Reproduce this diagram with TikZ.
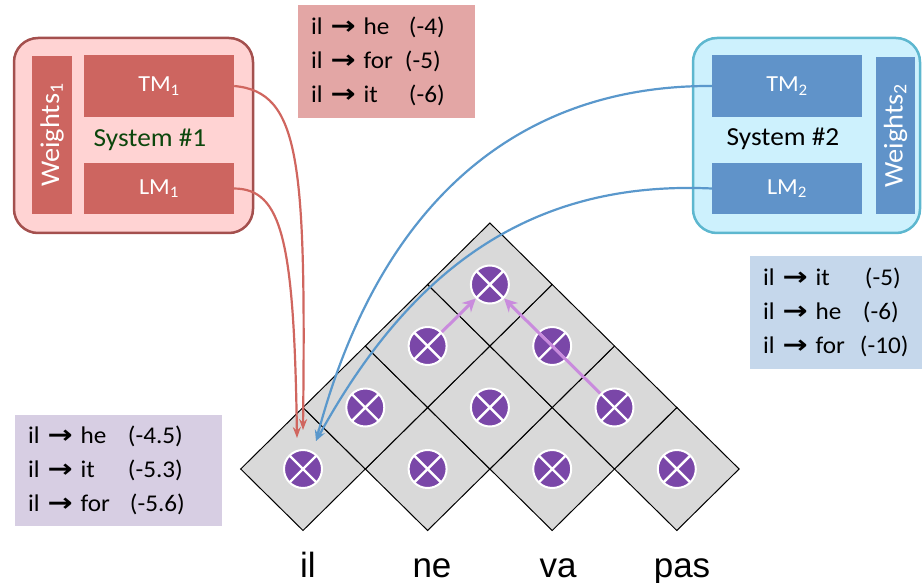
\documentclass[tikz,border=0pt]{standalone}
\usepackage{fontspec}
\setmainfont{Carlito}[FakeStretch=1.05]
\newfontfamily\wordfont{Liberation Sans}
\newfontfamily\arrowfont{DejaVu Sans}[FakeStretch=1.2]

\usetikzlibrary{arrows.meta}

\definecolor{sysredfill}{HTML}{FFD3D3}
\definecolor{sysredline}{HTML}{A4504E}
\definecolor{modred}{HTML}{CD6560}
\definecolor{sysgreen}{HTML}{0C460C}
\definecolor{tabred}{HTML}{E3A6A5}
\definecolor{sysbluefill}{HTML}{CDF1FD}
\definecolor{sysblueline}{HTML}{5DB7CF}
\definecolor{modblue}{HTML}{6093C9}
\definecolor{tabblue}{HTML}{C5D7EB}
\definecolor{tabpurple}{HTML}{D7CEE3}
\definecolor{cellgray}{HTML}{D9D9D9}
\definecolor{markpurple}{HTML}{7A47A8}
\definecolor{hyparrow}{HTML}{C98BDD}
\definecolor{linkred}{HTML}{D0665F}
\definecolor{linkblue}{HTML}{5A98CC}

\newcommand{\tto}{{\arrowfont\bfseries\fontsize{25}{25}\selectfont →}}
\newcommand{\scorecol}[2]{\makebox[#1pt][l]{#2}}

\begin{document}
\begin{tikzpicture}[x=1pt, y=-1pt,
	sysbox/.style={rounded corners=24pt, line width=2.5pt, inner sep=0pt},
	modbox/.style={inner sep=0pt, text=white, font=\fontsize{23}{23}\selectfont},
	sysname/.style={inner sep=0pt, font=\fontsize{26}{26}\selectfont},
	scoretab/.style={inner xsep=13pt, inner ysep=0pt, align=left, font=\fontsize{24}{34}\selectfont},
	cellmark/.style={circle, fill=markpurple, draw=white, line width=2pt, minimum size=38pt, inner sep=0pt,
		path picture={\draw[white, line width=2.4pt] (path picture bounding box.south west) -- (path picture bounding box.north east)
			(path picture bounding box.north west) -- (path picture bounding box.south east);}},
	link/.style={line width=2.2pt, -{Stealth[length=11pt, width=8pt]}},
	hyp/.style={draw=hyparrow, line width=3pt, -{Stealth[length=13pt, width=13pt]}},
	word/.style={anchor=base, font=\wordfont\fontsize{35}{35}\selectfont}]
	\useasboundingbox (0,0) rectangle (922,583);
	
	%system 1
	\node (sys1) at (133.5,135.5) [sysbox, draw=sysredline, fill=sysredfill, minimum width=239pt, minimum height=195pt]{};
	\node (wt1) at (52,135) [modbox, fill=modred, rotate=90, minimum width=158pt, minimum height=40pt, font=\fontsize{27}{27}\selectfont]{Weights\textsubscript{1}};
	\node (tm1) at (159,86) [modbox, fill=modred, minimum width=150pt, minimum height=62pt]{TM\textsubscript{1}};
	\node (lm1) at (159,188.5) [modbox, fill=modred, minimum width=150pt, minimum height=51pt]{LM\textsubscript{1}};
	\node (name1) at (150,140) [sysname, text=sysgreen]{System \#1};
	
	%system 2
	\node (sys2) at (806.5,135.5) [sysbox, draw=sysblueline, fill=sysbluefill, minimum width=227pt, minimum height=195pt]{};
	\node (tm2) at (787,86) [modbox, fill=modblue, minimum width=150pt, minimum height=62pt]{TM\textsubscript{2}};
	\node (lm2) at (787,188.5) [modbox, fill=modblue, minimum width=150pt, minimum height=51pt]{LM\textsubscript{2}};
	\node (wt2) at (895.5,135.5) [modbox, fill=modblue, rotate=90, minimum width=157pt, minimum height=39pt, font=\fontsize{27}{27}\selectfont]{Weights\textsubscript{2}};
	\node (name2) at (783,139) [sysname]{System \#2};
	
	%score tables
	\node (scores1) at (386.5,61.5) [scoretab, fill=tabred, minimum height=113pt, text width=151pt]{%
		\scorecol{98}{il \tto{} he}(-4)\\ \scorecol{94}{il \tto{} for}(-5)\\ \scorecol{98}{il \tto{} it}(-6)};
	\node (scores2) at (836,312.5) [scoretab, fill=tabblue, minimum height=113pt, text width=146pt]{%
		\scorecol{102}{il \tto{} it}(-5)\\ \scorecol{100}{il \tto{} he}(-6)\\ \scorecol{97}{il \tto{} for}(-10)};
	\node (scores3) at (118.5,470) [scoretab, fill=tabpurple, minimum height=111pt, text width=181pt]{%
		\scorecol{100}{il \tto{} he}(-4.5)\\ \scorecol{100}{il \tto{} it}(-5.3)\\ \scorecol{102}{il \tto{} for}(-5.6)};
	
	%chart cells
	\foreach \r in {0,...,3}{
		\pgfmathtruncatemacro\last{3-\r}
		\foreach \c in {0,...,\last}{
			\pgfmathsetmacro\cx{303+62.3*\r+124.6*\c}
			\pgfmathsetmacro\cy{469-61.5*\r}
			\draw[fill=cellgray, line width=1pt] ({\cx-62.3},\cy) -- (\cx,{\cy-61.5}) -- ({\cx+62.3},\cy) -- (\cx,{\cy+61.5}) -- cycle;
			\node (c-\r-\c) at (\cx,\cy) [cellmark]{};
		}
	}
	
	%source words
	\foreach \w/\x [count=\i] in {il/308, ne/432, va/558, pas/682}{
		\node (w\i) at (\x,577) [word]{\w};
	}
	
	%hypothesis combination
	\draw[hyp] (c-2-0) -- (c-3-0);
	\draw[hyp] (c-1-2) -- (c-3-0);
	
	%model links
	\coordinate (tipTM1) at ([shift={(0,-39)}]c-0-0.center);
	\coordinate (tipLM1) at ([shift={(-6,-31)}]c-0-0.center);
	\coordinate (tipSys2) at ([shift={(13,-28)}]c-0-0.center);
	\draw[link, linkred] (tm1.east) .. controls (300,92) and (306,160) .. (tipTM1);
	\draw[link, linkred] (lm1.east) .. controls (282,189) and (294,240) .. (tipLM1);
	\draw[link, linkblue] (tm2.west) .. controls (520,85) and (380,200) .. (tipSys2);
	\draw[link, linkblue] (lm2.west) .. controls (530,180) and (410,270) .. (tipSys2);
\end{tikzpicture}
\end{document}
